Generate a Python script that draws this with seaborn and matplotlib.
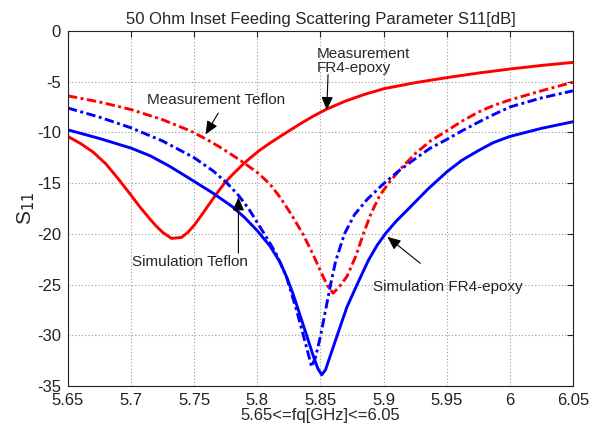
import seaborn as sns
import matplotlib
matplotlib.use('Agg')
import matplotlib.pyplot as plt

# measured FR4-epoxy (red solid)
fq_meas_fr4 = [5.65, 5.66, 5.67, 5.68, 5.69, 5.70, 5.707, 5.715, 5.72, 5.725, 5.732,
               5.74, 5.745, 5.75, 5.755, 5.76, 5.768, 5.774, 5.78, 5.789, 5.795, 5.802,
               5.81, 5.82, 5.834, 5.845, 5.855, 5.87, 5.885, 5.90, 5.925, 5.95, 5.975,
               6.00, 6.025, 6.05]
s11_meas_fr4 = [-10.4, -11.1, -11.95, -13.1, -14.6, -16.2, -17.35, -18.55, -19.25, -19.85, -20.45,
                -20.35, -19.85, -19.15, -18.3, -17.4, -16.0, -15.0, -14.2, -13.1, -12.45, -11.75,
                -11.05, -10.25, -9.15, -8.35, -7.7, -6.9, -6.25, -5.7, -5.1, -4.6, -4.15,
                -3.75, -3.4, -3.1]

# measured Teflon (red dash-dot)
fq_meas_tef = [5.65, 5.675, 5.70, 5.725, 5.747, 5.76, 5.773, 5.787, 5.80, 5.81, 5.818,
               5.827, 5.836, 5.844, 5.852, 5.856, 5.86, 5.865, 5.871, 5.878, 5.884, 5.89,
               5.897, 5.905, 5.913, 5.925, 5.937, 5.95, 5.962, 5.975, 5.987, 6.00, 6.025, 6.05]
s11_meas_tef = [-6.4, -7.0, -7.75, -8.75, -9.85, -10.7, -11.65, -12.8, -13.95, -15.1, -16.4,
                -18.1, -20.0, -22.0, -24.2, -25.2, -25.85, -25.2, -24.2, -22.2, -20.0, -18.0,
                -16.2, -14.85, -13.65, -12.1, -10.85, -9.85, -8.9, -8.0, -7.35, -6.8, -5.9, -5.05]

# simulated Teflon (blue dash-dot)
fq_sim_tef = [5.65, 5.675, 5.70, 5.725, 5.75, 5.765, 5.776, 5.785, 5.793, 5.80, 5.808,
              5.815, 5.823, 5.831, 5.839, 5.843, 5.846, 5.85, 5.858, 5.862, 5.869, 5.877,
              5.887, 5.90, 5.913, 5.925, 5.937, 5.95, 5.962, 5.975, 5.987, 6.00, 6.025, 6.05]
s11_sim_tef = [-7.6, -8.5, -9.55, -10.85, -12.5, -13.8, -15.0, -16.2, -17.5, -18.9, -20.5,
               -22.0, -24.2, -27.5, -31.2, -33.1, -32.2, -30.1, -25.0, -22.7, -20.0, -18.1,
               -16.6, -15.05, -13.7, -12.6, -11.55, -10.7, -9.85, -9.0, -8.25, -7.5, -6.6, -5.9]

# simulated FR4-epoxy (blue solid)
fq_sim_fr4 = [5.65, 5.675, 5.70, 5.715, 5.73, 5.747, 5.765, 5.78, 5.79, 5.80,
              5.81, 5.818, 5.823, 5.8285, 5.839, 5.845, 5.848, 5.851, 5.854, 5.857, 5.863,
              5.871, 5.879, 5.888, 5.895, 5.902, 5.91, 5.92, 5.935, 5.95, 5.962, 5.975,
              5.987, 6.00, 6.025, 6.05]
s11_sim_fr4 = [-9.75, -10.6, -11.55, -12.3, -13.3, -14.6, -16.0, -17.3, -18.4, -19.7,
               -21.2, -22.8, -24.2, -26.0, -30.0, -32.3, -33.3, -33.9, -33.4, -32.3, -30.1,
               -27.2, -25.0, -22.6, -21.1, -19.9, -18.75, -17.5, -15.6, -13.9, -12.75, -11.8,
               -11.0, -10.4, -9.6, -8.95]

x_ticks = [5.65, 5.7, 5.75, 5.8, 5.85, 5.9, 5.95, 6.0, 6.05]
x_tick_labels = ['5.65', '5.7', '5.75', '5.8', '5.85', '5.9', '5.95', '6', '6.05']
y_ticks = [0, -5, -10, -15, -20, -25, -30, -35]

sns.set_style("white")
plt.rcParams['font.family'] = ['Liberation Sans', 'DejaVu Sans']
plt.rcParams['axes.unicode_minus'] = False
plt.rcParams['lines.solid_joinstyle'] = 'round'
plt.rcParams['lines.dash_joinstyle'] = 'round'

fig = plt.figure(figsize=(5.91, 4.30), dpi=100)
ax = fig.add_axes([0.115, 0.1023, 0.8545, 0.8257])

dashdot = (0, (3.2, 1.2, 1.0, 1.2))
lw = 2.1

sns.lineplot(x=fq_meas_fr4, y=s11_meas_fr4, ax=ax, color='#ff0000', lw=lw)
sns.lineplot(x=fq_meas_tef, y=s11_meas_tef, ax=ax, color='#ff0000', lw=lw, linestyle=dashdot)
sns.lineplot(x=fq_sim_tef, y=s11_sim_tef, ax=ax, color='#0000ff', lw=lw, linestyle=dashdot)
sns.lineplot(x=fq_sim_fr4, y=s11_sim_fr4, ax=ax, color='#0000ff', lw=lw)

ax.set_xlim(5.65, 6.05)
ax.set_ylim(-35, 0)
ax.set_xticks(x_ticks)
ax.set_xticklabels(x_tick_labels)
ax.set_yticks(y_ticks)
ax.grid(True, color='#999999', linestyle=(0, (1, 2)), linewidth=0.8)
ax.tick_params(direction='in', top=True, right=True, length=4, width=0.8,
               labelsize=12, colors='#222222', pad=5)
for spine in ax.spines.values():
    spine.set_color('#222222')
    spine.set_linewidth(0.8)

ax.set_title('50 Ohm Inset Feeding Scattering Parameter S11[dB]', fontsize=12, pad=5)
ax.set_xlabel('5.65<=fq[GHz]<=6.05', fontsize=12, labelpad=0)
ax.set_ylabel('S$_{11}$', fontsize=15, labelpad=0)

arrow = dict(arrowstyle='-|>,head_length=0.8,head_width=0.35', color='black', lw=0.8,
             shrinkA=0, shrinkB=0)

ax.text(5.847, -3.0, 'Measurement\nFR4-epoxy', fontsize=11, ha='left', va='center',
        linespacing=1.0)
ax.annotate('', xy=(5.855, -7.8), xytext=(5.856, -4.3), arrowprops=arrow)

ax.text(5.767, -6.8, 'Measurement Teflon', fontsize=11, ha='center', va='center')
ax.annotate('', xy=(5.759, -10.2), xytext=(5.769, -8.1), arrowprops=arrow)

ax.text(5.747, -22.8, 'Simulation Teflon', fontsize=11, ha='center', va='center')
ax.annotate('', xy=(5.785, -16.4), xytext=(5.785, -21.9), arrowprops=arrow)

ax.text(5.951, -25.2, 'Simulation FR4-epoxy', fontsize=11, ha='center', va='center')
ax.annotate('', xy=(5.903, -20.3), xytext=(5.929, -22.9), arrowprops=arrow)

plt.savefig('out.png', dpi=100)
plt.close()
